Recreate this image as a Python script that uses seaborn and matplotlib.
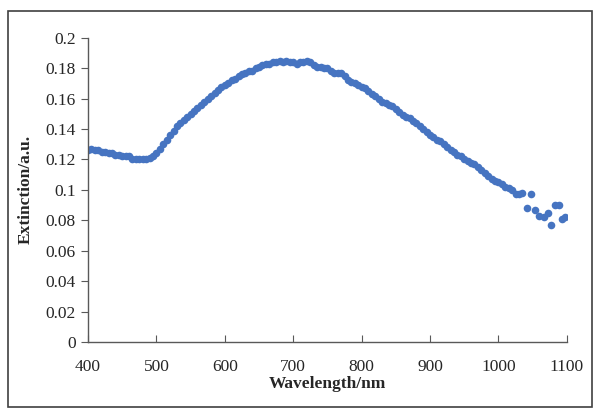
import numpy as np
import seaborn as sns
import pandas as pd
import matplotlib.pyplot as plt
from matplotlib.patches import Rectangle

wavelength = [400, 405, 410, 415, 420, 425, 430, 435, 440, 445,
              450, 455, 460, 465, 470, 475, 480, 485, 490, 495,
              500, 505, 510, 515, 520, 525, 530, 535, 540, 545,
              550, 555, 560, 565, 570, 575, 580, 585, 590, 595,
              600, 605, 610, 615, 620, 625, 630, 635, 640, 645,
              650, 655, 660, 665, 670, 675, 680, 685, 690, 695,
              700, 705, 710, 715, 720, 725, 730, 735, 740, 745,
              750, 755, 760, 765, 770, 775, 780, 785, 790, 795,
              800, 805, 810, 815, 820, 825, 830, 835, 840, 845,
              850, 855, 860, 865, 870, 875, 880, 885, 890, 895,
              900, 905, 910, 915, 920, 925, 930, 935, 940, 945,
              950, 955, 960, 965, 970, 975, 980, 985, 990, 995,
              1000, 1005, 1010, 1015, 1020, 1025, 1030, 1035, 1042, 1048,
              1053, 1060, 1067, 1072, 1077, 1082, 1088, 1093, 1098]

extinction = [0.126, 0.127, 0.126, 0.126, 0.125, 0.125, 0.124, 0.124, 0.123, 0.123,
              0.122, 0.122, 0.122, 0.120, 0.120, 0.120, 0.120, 0.120, 0.121, 0.122,
              0.124, 0.127, 0.130, 0.133, 0.136, 0.139, 0.142, 0.144, 0.146, 0.148,
              0.150, 0.152, 0.154, 0.156, 0.158, 0.160, 0.162, 0.164, 0.166, 0.168,
              0.169, 0.170, 0.172, 0.173, 0.175, 0.176, 0.177, 0.178, 0.178, 0.180,
              0.181, 0.182, 0.183, 0.183, 0.184, 0.184, 0.185, 0.184, 0.185, 0.184,
              0.184, 0.183, 0.184, 0.184, 0.185, 0.184, 0.182, 0.181, 0.181, 0.180,
              0.180, 0.178, 0.177, 0.177, 0.177, 0.175, 0.172, 0.171, 0.170, 0.169,
              0.168, 0.167, 0.165, 0.163, 0.162, 0.160, 0.158, 0.157, 0.156, 0.155,
              0.153, 0.151, 0.149, 0.148, 0.147, 0.145, 0.144, 0.142, 0.140, 0.138,
              0.136, 0.135, 0.133, 0.132, 0.130, 0.128, 0.126, 0.125, 0.123, 0.122,
              0.120, 0.119, 0.118, 0.117, 0.115, 0.113, 0.111, 0.109, 0.107, 0.106,
              0.105, 0.104, 0.102, 0.101, 0.100, 0.097, 0.097, 0.098, 0.088, 0.097,
              0.087, 0.083, 0.082, 0.085, 0.077, 0.090, 0.090, 0.081, 0.082]

df = pd.DataFrame({'Wavelength': wavelength, 'Extinction': extinction})

sns.set_style('white')
plt.rcParams['font.family'] = ['Liberation Serif', 'DejaVu Serif']

fig = plt.figure(figsize=(6, 4.16), dpi=100)
ax = fig.add_axes([0.1467, 0.178, 0.798, 0.731])

sns.scatterplot(data=df, x='Wavelength', y='Extinction', ax=ax,
                color='#4674C1', s=30, linewidth=0)

ax.set_xlim(400, 1100)
ax.set_ylim(0, 0.2)
ax.set_xticks(np.arange(400, 1101, 100))
ax.set_yticks(np.arange(0, 0.201, 0.02))
ax.set_yticklabels(['0', '0.02', '0.04', '0.06', '0.08', '0.1',
                    '0.12', '0.14', '0.16', '0.18', '0.2'])
ax.set_xlabel('Wavelength/nm', fontsize=12.5, fontweight='bold', labelpad=1)
ax.set_ylabel('Extinction/a.u.', fontsize=12.5, fontweight='bold', labelpad=8)

for side in ['top', 'right']:
    ax.spines[side].set_visible(False)
for side in ['left', 'bottom']:
    ax.spines[side].set_color('#595959')
    ax.spines[side].set_linewidth(1)
ax.tick_params(axis='y', direction='out', length=5, color='#595959',
               labelsize=12.5, left=True, pad=4)
ax.tick_params(axis='x', direction='in', length=5, color='#595959',
               labelsize=12.5, bottom=True, pad=12)

fig.patches.append(Rectangle((8 / 600, 1 - 407 / 416), 584 / 600, 396 / 416,
                             transform=fig.transFigure, fill=False,
                             edgecolor='#404040', linewidth=1.2))

fig.savefig('out.png', dpi=100)
